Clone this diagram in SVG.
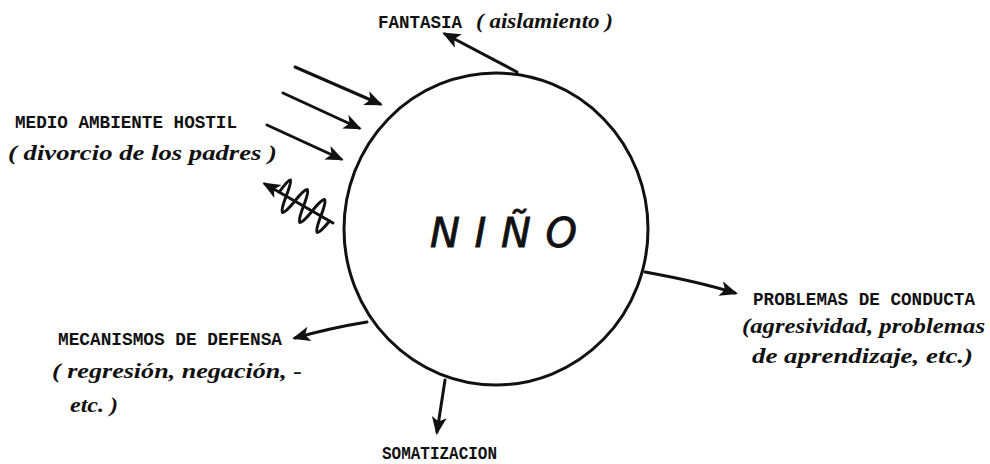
<svg xmlns="http://www.w3.org/2000/svg" width="990" height="464" viewBox="0 0 990 464">
<style>
.caps{font-family:"Liberation Mono","DejaVu Sans Mono",monospace;font-size:18px;font-weight:bold;fill:#111;}
.ital{font-family:"Liberation Serif","DejaVu Serif",serif;font-style:italic;font-weight:bold;font-size:20px;fill:#111;}
.ln{fill:none;stroke:#111;stroke-width:3;stroke-linecap:round;}
</style>
<defs>
<marker id="ah" viewBox="0 0 12 10" refX="10" refY="5" markerWidth="6" markerHeight="6" orient="auto" markerUnits="strokeWidth">
<path d="M0,0 L12,5 L0,10 L3,5 z" fill="#111"/>
</marker>
</defs>
<rect width="990" height="464" fill="#fff"/>
<g id="connectors">
<path class="ln" d="M517,72 L445,34" marker-end="url(#ah)"/>
<path class="ln" d="M295,67 L380,104" marker-end="url(#ah)" stroke-width="3.5"/>
<path class="ln" d="M283,93 L359,128" marker-end="url(#ah)"/>
<path class="ln" d="M267,125 L341,159" marker-end="url(#ah)"/>
<path class="ln" d="M333,223 L265,184" marker-end="url(#ah)"/>
<g transform="translate(333,223) rotate(210)">
<path class="ln" d="M4,0 Q9,-32 14,0 T24,0 T34,0 T44,0 T54,0 T62,0"/>
</g>
<path class="ln" d="M645,272 Q700,282 735,293" marker-end="url(#ah)"/>
<path class="ln" d="M367,322 Q330,328 295,338" marker-end="url(#ah)"/>
<path class="ln" d="M445,380 L437,432" marker-end="url(#ah)"/>
</g>
<g id="nino">
<ellipse cx="496" cy="229" rx="152" ry="156" fill="none" stroke="#111" stroke-width="3"/>
<text x="430" y="247" font-family="DejaVu Sans, sans-serif" font-style="italic" font-size="40" fill="#111" stroke="#111" stroke-width="0.8" textLength="147" lengthAdjust="spacing">NIÑO</text>
</g>
<g id="fantasia">
<text class="caps" x="378" y="28" textLength="84" lengthAdjust="spacingAndGlyphs">FANTASIA</text>
<text class="ital" x="476" y="28" textLength="137" lengthAdjust="spacingAndGlyphs">( aislamiento )</text>
</g>
<g id="medio">
<text class="caps" x="15" y="128" textLength="222" lengthAdjust="spacingAndGlyphs">MEDIO AMBIENTE HOSTIL</text>
<text class="ital" x="8" y="160" textLength="269" lengthAdjust="spacingAndGlyphs">( divorcio de los padres )</text>
</g>
<g id="mecanismos">
<text class="caps" x="58" y="345" textLength="224" lengthAdjust="spacingAndGlyphs">MECANISMOS DE DEFENSA</text>
<text class="ital" x="52" y="378" textLength="250" lengthAdjust="spacingAndGlyphs">( regresión, negación, -</text>
<text class="ital" x="70" y="412" textLength="48" lengthAdjust="spacingAndGlyphs">etc. )</text>
</g>
<g id="problemas">
<text class="caps" x="753" y="305" textLength="222" lengthAdjust="spacingAndGlyphs">PROBLEMAS DE CONDUCTA</text>
<text class="ital" x="742" y="333" textLength="243" lengthAdjust="spacingAndGlyphs">(agresividad, problemas</text>
<text class="ital" x="752" y="363" textLength="221" lengthAdjust="spacingAndGlyphs">de aprendizaje, etc.)</text>
</g>
<g id="somatizacion">
<text class="caps" x="382" y="459" font-size="17" textLength="115" lengthAdjust="spacingAndGlyphs">SOMATIZACION</text>
</g>
</svg>
